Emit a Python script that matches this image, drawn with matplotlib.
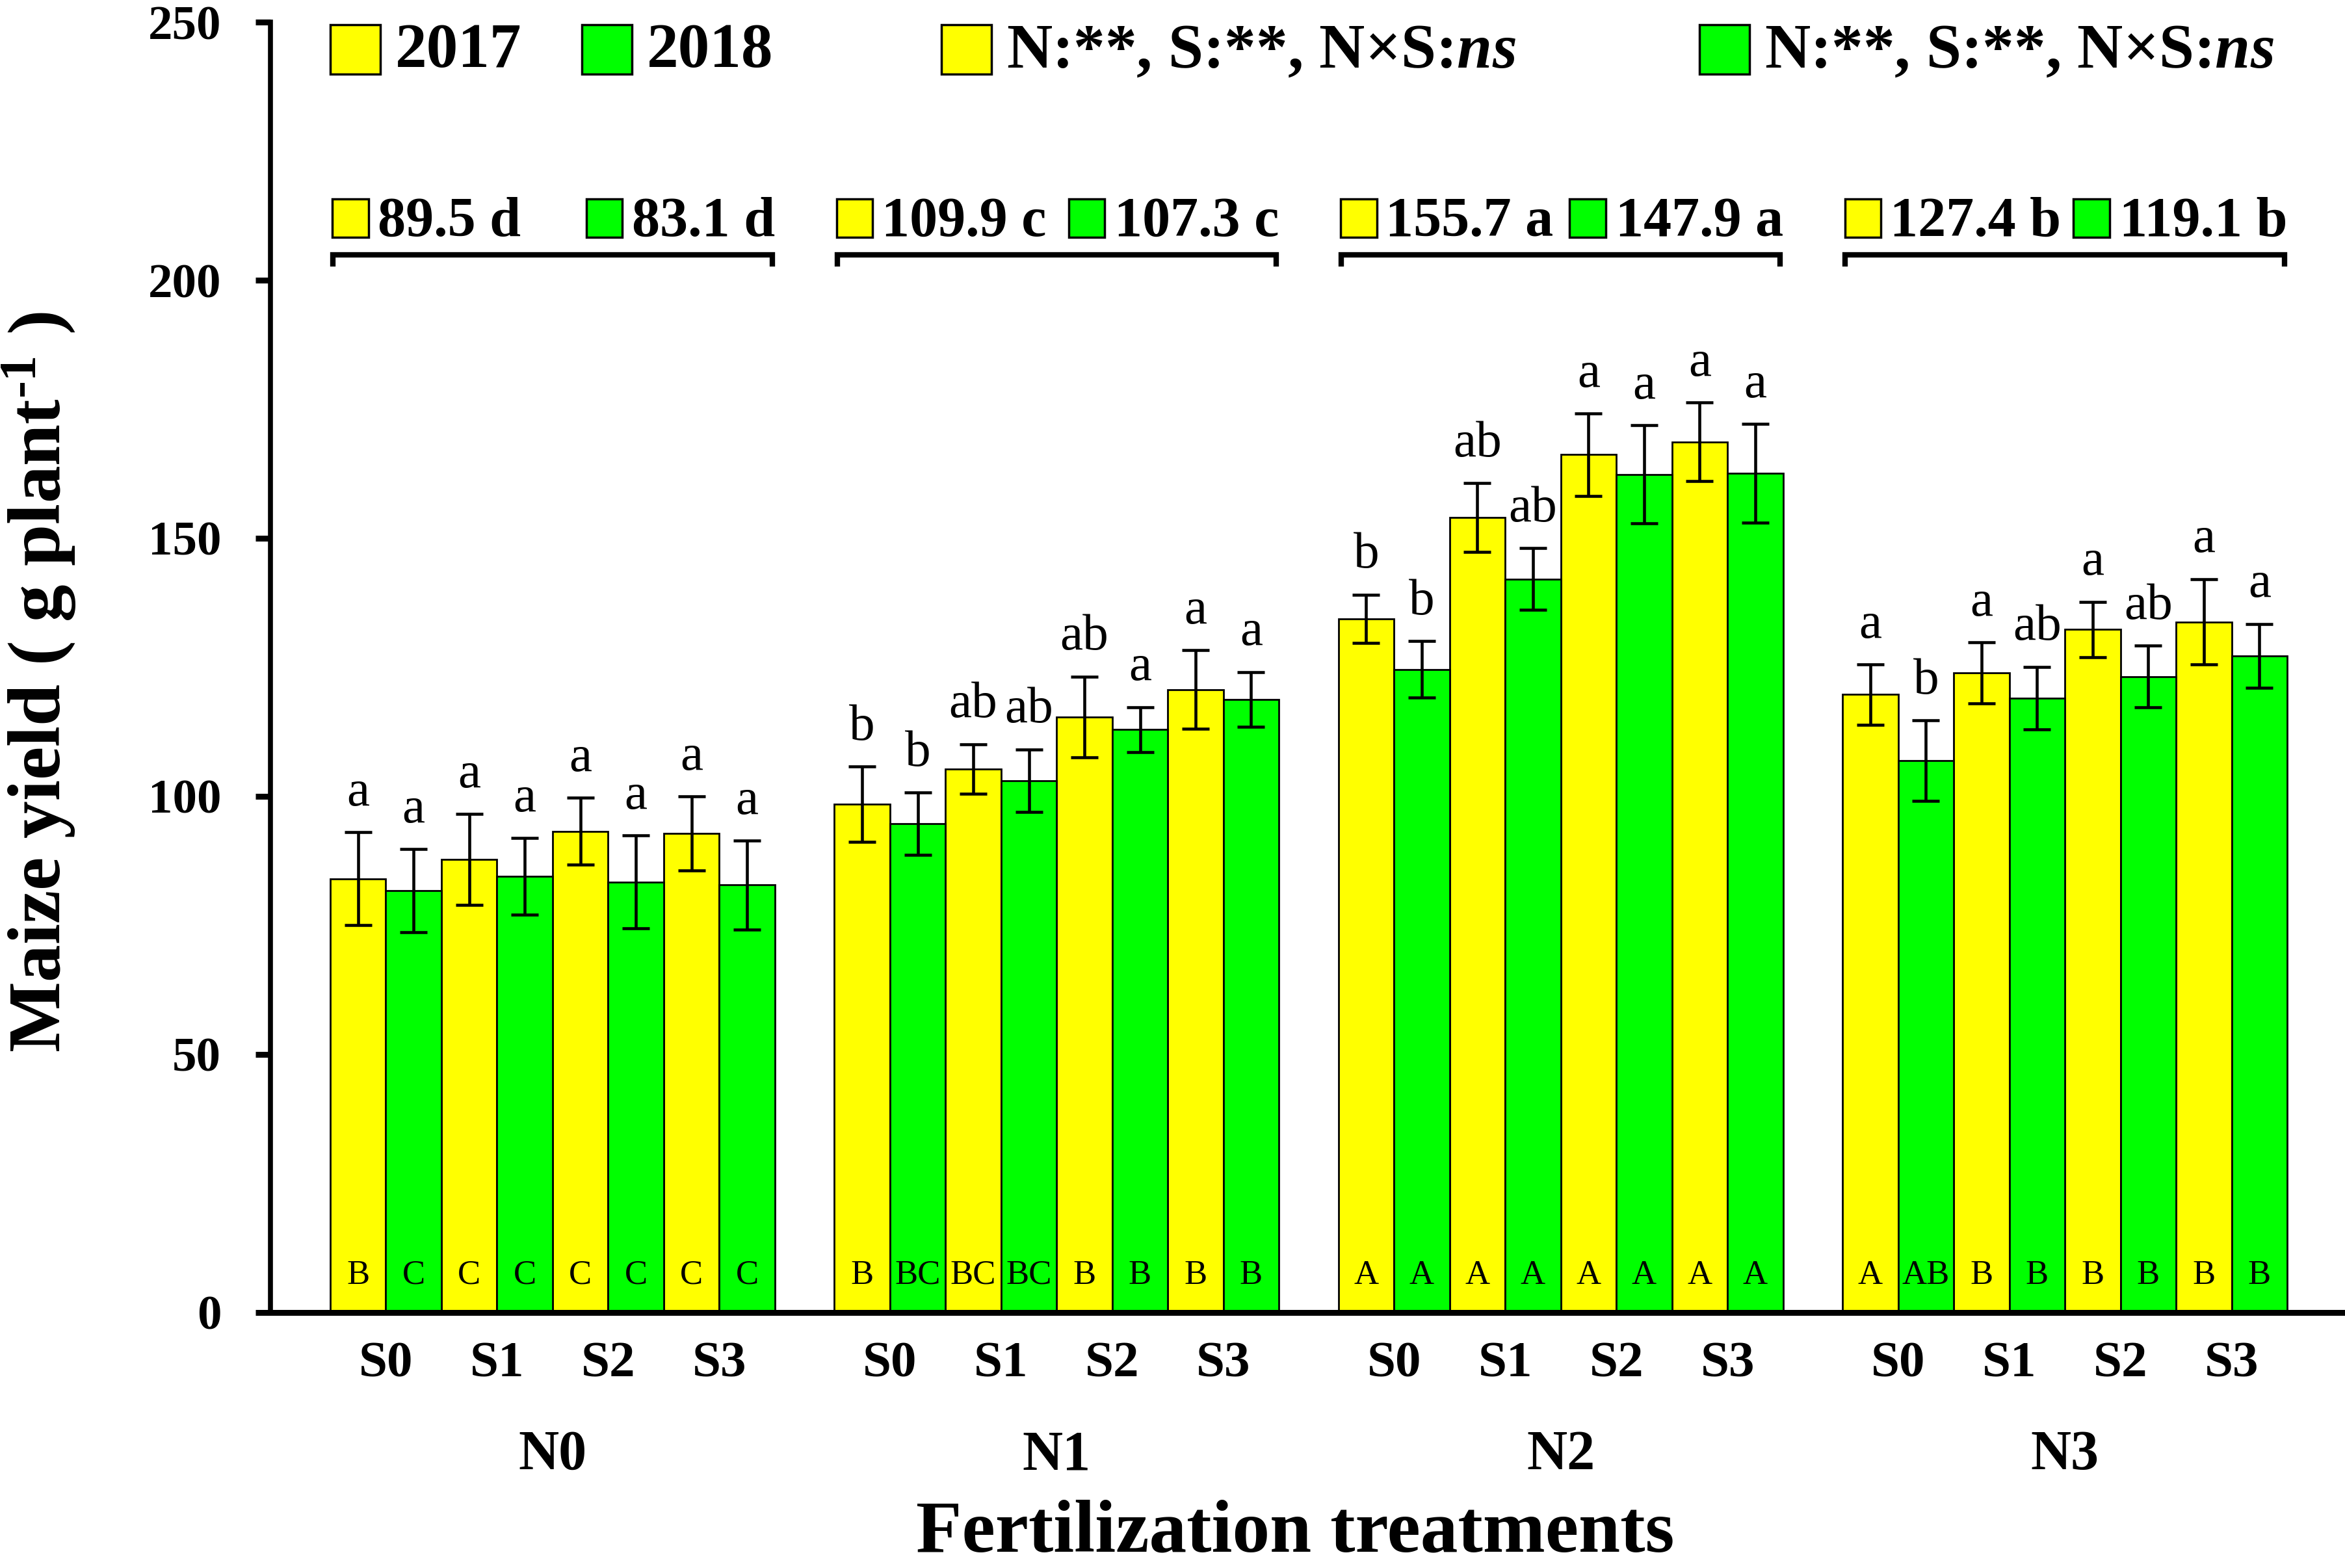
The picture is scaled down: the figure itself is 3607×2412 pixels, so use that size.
import matplotlib
matplotlib.use('Agg')
import matplotlib.pyplot as plt
import matplotlib.transforms as mtransforms
from matplotlib.patches import Rectangle

# --- data ---
N_LEVELS = ['N0', 'N1', 'N2', 'N3']
S_LEVELS = ['S0', 'S1', 'S2', 'S3']
YEARS = ['2017', '2018']

# bar order: N0 S0..S3, N1 S0..S3, N2 ..., N3 ...
yield_2017 = [84.0, 87.8, 93.2, 92.8,
              98.5, 105.3, 115.4, 120.7,
              134.4, 154.0, 166.2, 168.7,
              119.7, 123.9, 132.3, 133.8]
err_2017 = [9.0, 8.8, 6.5, 7.2,
            7.3, 4.8, 7.8, 7.6,
            4.7, 6.7, 8.0, 7.6,
            5.8, 5.9, 5.4, 8.3]
yield_2018 = [81.7, 84.5, 83.4, 82.8,
              94.7, 103.0, 112.9, 118.8,
              124.6, 142.1, 162.4, 162.6,
              106.9, 119.0, 123.2, 127.2]
err_2018 = [8.1, 7.4, 9.0, 8.6,
            6.0, 6.1, 4.4, 5.3,
            5.5, 6.0, 9.5, 9.6,
            7.8, 6.1, 6.0, 6.2]

# letters above the bars (S effect within each N)
top_2017 = ['a', 'a', 'a', 'a', 'b', 'ab', 'ab', 'a', 'b', 'ab', 'a', 'a', 'a', 'a', 'a', 'a']
top_2018 = ['a', 'a', 'a', 'a', 'b', 'ab', 'a', 'a', 'b', 'ab', 'a', 'a', 'b', 'ab', 'ab', 'a']
# letters inside the bars (N effect within each S)
low_2017 = ['B', 'C', 'C', 'C', 'B', 'BC', 'B', 'B', 'A', 'A', 'A', 'A', 'A', 'B', 'B', 'B']
low_2018 = ['C', 'C', 'C', 'C', 'BC', 'BC', 'B', 'B', 'A', 'A', 'A', 'A', 'AB', 'B', 'B', 'B']

# group means per N level
mean_2017 = ['89.5 d', '109.9 c', '155.7 a', '127.4 b']
mean_2018 = ['83.1 d', '107.3 c', '147.9 a', '119.1 b']

anova_2017 = 'N:**, S:**, N×S:$\\it{ns}$'
anova_2018 = 'N:**, S:**, N×S:$\\it{ns}$'

YELLOW = '#FFFF00'
GREEN = '#00FF00'


def main():
    plt.rcParams['font.family'] = ['Liberation Serif', 'DejaVu Serif']
    plt.rcParams['font.weight'] = 'bold'
    plt.rcParams['mathtext.fontset'] = 'custom'
    plt.rcParams['mathtext.rm'] = 'Liberation Serif:bold'
    plt.rcParams['mathtext.bf'] = 'Liberation Serif:bold'
    plt.rcParams['mathtext.it'] = 'Liberation Serif:italic:bold'

    fig = plt.figure(figsize=(36.07, 24.12), dpi=100)
    ax = fig.add_axes([0.1153, 0.1631, 0.8847, 0.8227])

    pitch = 9.07  # 8 bars + gap
    group_x = [g * pitch for g in range(len(N_LEVELS))]
    x17 = [gx + 2 * j + 0.5 for gx in group_x for j in range(len(S_LEVELS))]
    x18 = [x + 1.0 for x in x17]

    ekw = dict(ecolor='black', elinewidth=3.3, capsize=15, capthick=3.3)
    ax.bar(x17, yield_2017, width=1.0, color=YELLOW, edgecolor='black',
           linewidth=2, yerr=err_2017, error_kw=ekw)
    ax.bar(x18, yield_2018, width=1.0, color=GREEN, edgecolor='black',
           linewidth=2, yerr=err_2018, error_kw=ekw)

    # significance letters
    for xs, ys, es, tops, lows in [(x17, yield_2017, err_2017, top_2017, low_2017),
                                   (x18, yield_2018, err_2018, top_2018, low_2018)]:
        for x, y, e, t, l in zip(xs, ys, es, tops, lows):
            ax.text(x, y + e + 5.2, t, ha='center', va='baseline',
                    fontsize=57, fontweight='normal')
            ax.text(x, 5.5, l, ha='center', va='baseline',
                    fontsize=38, fontweight='normal')

    ax.set_xlim(-1.076, 36.25)
    ax.set_ylim(0, 250)
    ax.set_yticks([0, 50, 100, 150, 200, 250])
    ax.set_xticks([])
    ax.tick_params(axis='y', direction='out', length=16.5, width=6.5,
                   pad=38, labelsize=54)
    for sp in ['top', 'right']:
        ax.spines[sp].set_visible(False)
    ax.spines['left'].set_linewidth(5.5)
    ax.spines['left'].set_bounds(0, 250)
    ax.spines['bottom'].set_linewidth(6.5)

    # x labels below the axis
    trans = mtransforms.blended_transform_factory(ax.transData, fig.transFigure)
    for gx in group_x:
        for j, s in enumerate(S_LEVELS):
            ax.text(gx + 2 * j + 1.0, 0.1219, s, transform=trans,
                    ha='center', va='baseline', fontsize=57)
    for gx, n in zip(group_x, N_LEVELS):
        ax.text(gx + 4.0, 0.063, n, transform=trans,
                ha='center', va='baseline', fontsize=62)
    fig.text(0.5523, 0.0105, 'Fertilization treatments', ha='center',
             va='baseline', fontsize=83)
    fig.text(0.0166, 0.565, 'Maize yield ( g plant$^{\u2010 1}$ )', rotation=90,
             ha='center', va='center', fontsize=83)

    # top legend row
    legend_items = [(0.0, YELLOW, YEARS[0]), (4.53, GREEN, YEARS[1]),
                    (11.0, YELLOW, anova_2017), (24.63, GREEN, anova_2018)]
    for lx, col, txt in legend_items:
        ax.add_patch(Rectangle((lx, 240.0), 0.9, 9.5, facecolor=col,
                               edgecolor='black', linewidth=2.5, clip_on=False))
        ax.text(lx + 1.17, 241.3, txt, ha='left', va='baseline', fontsize=70)

    # group means with brackets
    fig.canvas.draw()
    renderer = fig.canvas.get_renderer()
    inv = ax.transData.inverted()
    for gx, m17, m18 in zip(group_x, mean_2017, mean_2018):
        ax.add_patch(Rectangle((gx + 0.04, 208.3), 0.65, 7.5, facecolor=YELLOW,
                               edgecolor='black', linewidth=2.5))
        ax.text(gx + 0.85, 208.6, m17, ha='left', va='baseline', fontsize=62)
        t = ax.text(gx + 8.0, 208.6, m18, ha='right', va='baseline', fontsize=62)
        bb = t.get_window_extent(renderer)
        left = inv.transform((bb.x0, bb.y0))[0]
        ax.add_patch(Rectangle((left - 0.82, 208.3), 0.65, 7.5, facecolor=GREEN,
                               edgecolor='black', linewidth=2.5))
        ax.plot([gx + 0.05, gx + 0.05, gx + 7.95, gx + 7.95],
                [202.6, 204.9, 204.9, 202.6], color='black', linewidth=6,
                solid_joinstyle='miter', solid_capstyle='butt')

    fig.savefig('out.png', dpi=100)


if __name__ == '__main__':
    main()
